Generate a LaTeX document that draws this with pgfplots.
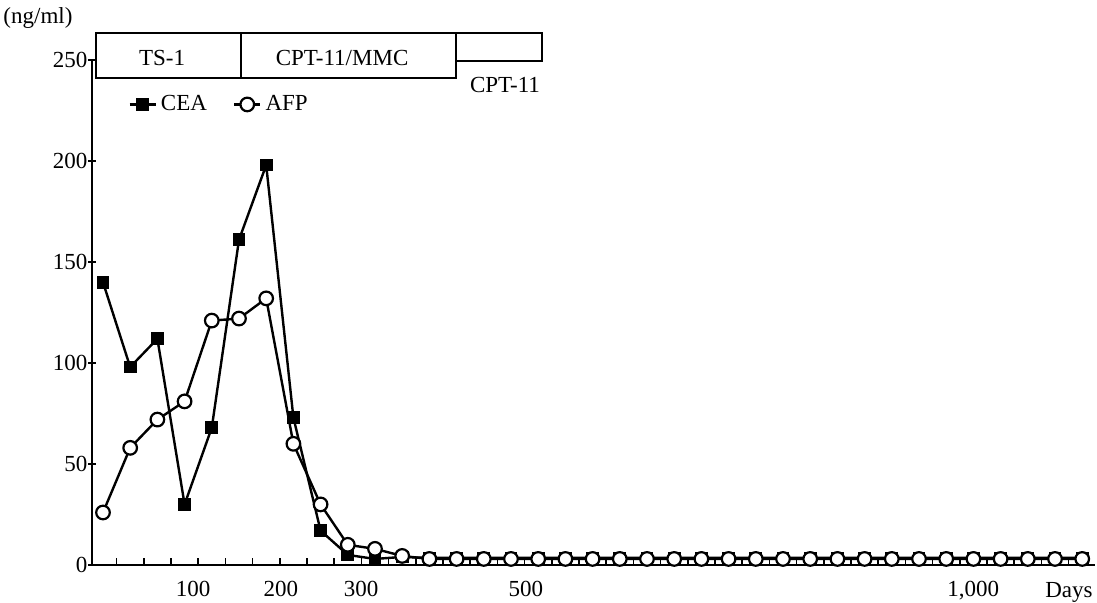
\documentclass[border=0pt]{standalone}
\usepackage{pgfplots}
\pgfplotsset{compat=1.18}
\usepackage{fontspec}
\setmainfont{Liberation Serif}

\begin{document}
\begin{tikzpicture}[font=\fontsize{11.5}{13.5}\selectfont]
\begin{axis}[
    name=ax, scale only axis, width=501.5pt, height=252.5pt,
    xmin=-0.404, xmax=36.47, ymin=0, ymax=250,
    axis x line*=bottom, axis y line*=left,
    axis line style={line width=1pt,-},
    clip=false,
    xtick={0.5,1.5,...,36.5}, xticklabels={},
    xtick align=inside, major tick length=3.5pt,
    ytick={0,50,...,250}, ytick align=center,
    yticklabel style={xshift=3pt},
    every tick/.style={black, line width=0.8pt},
    extra x ticks={3.31,6.54,9.49,15.55,31.99},
    extra x tick labels={100,200,300,500,{1,000}},
    extra x tick style={major tick length=0pt, xticklabel style={yshift=-4.6pt}},
    /pgf/number format/assume math mode=true,
    xlabel={Days},
    xlabel style={at={(axis cs:35.51,0)}, anchor=north, yshift=-4.6pt, inner sep=3.7pt},
    ylabel={(ng/ml)},
    ylabel style={rotate=-90, at={(axis cs:-2.39,270.8)}, anchor=center},
    legend columns=2,
    legend style={draw=none, fill=none, at={(axis cs:0.92,228)}, anchor=west,
        inner sep=0pt, /tikz/every even column/.append style={column sep=11pt}},
    legend image code/.code={\draw[mark repeat=2,mark phase=2]
        plot coordinates {(0cm,0cm) (0.23cm,0cm) (0.46cm,0cm)};},
]
\addplot[line width=1.2pt, mark=square*, mark size=2.6pt, mark options={solid,fill=black}]
coordinates {(0,140) (1,98) (2,112) (3,30) (4,68) (5,161) (6,198) (7,73) (8,17)
 (9,5) (10,3) (11,4) (12,3.5) (13,3.5) (14,3.5) (15,3.5) (16,3.5) (17,3.5) (18,3.5)
 (19,3.5) (20,3.5) (21,3.5) (22,3.5) (23,3.5) (24,3.5) (25,3.5) (26,3.5) (27,3.5)
 (28,3.5) (29,3.5) (30,3.5) (31,3.5) (32,3.5) (33,3.5) (34,3.5) (35,3.5) (36,3.5)};
\addplot[line width=1.2pt, mark=*, mark size=3.4pt, mark options={fill=white,line width=1.1pt}]
coordinates {(0,26) (1,58) (2,72) (3,81) (4,121) (5,122) (6,132) (7,60) (8,30)
 (9,10) (10,8) (11,4.5) (12,3) (13,3) (14,3) (15,3) (16,3) (17,3) (18,3) (19,3)
 (20,3) (21,3) (22,3) (23,3) (24,3) (25,3) (26,3) (27,3) (28,3) (29,3) (30,3)
 (31,3) (32,3) (33,3) (34,3) (35,3) (36,3)};
\legend{CEA, AFP}
% treatment periods
\draw[line width=0.9pt] (axis cs:-0.257,241.1) rectangle (axis cs:12.98,263.4);
\draw[line width=0.9pt] (axis cs:5.07,241.1) -- (axis cs:5.07,263.4);
\draw[line width=0.9pt] (axis cs:12.98,249.5) rectangle (axis cs:16.14,263.4);
\draw[line width=0.9pt] (axis cs:-0.404,250) -- (axis cs:-0.257,250);
\node at (axis cs:2.17,250.9) {TS-1};
\node at (axis cs:8.79,250.9) {CPT-11/MMC};
\node at (axis cs:14.78,237.6) {CPT-11};
\end{axis}
\pgfresetboundingbox
\path ([shift={(-46pt,-18.5pt)}]ax.south west) rectangle ([shift={(502.5pt,282.5pt)}]ax.south west);
\end{tikzpicture}
\end{document}
